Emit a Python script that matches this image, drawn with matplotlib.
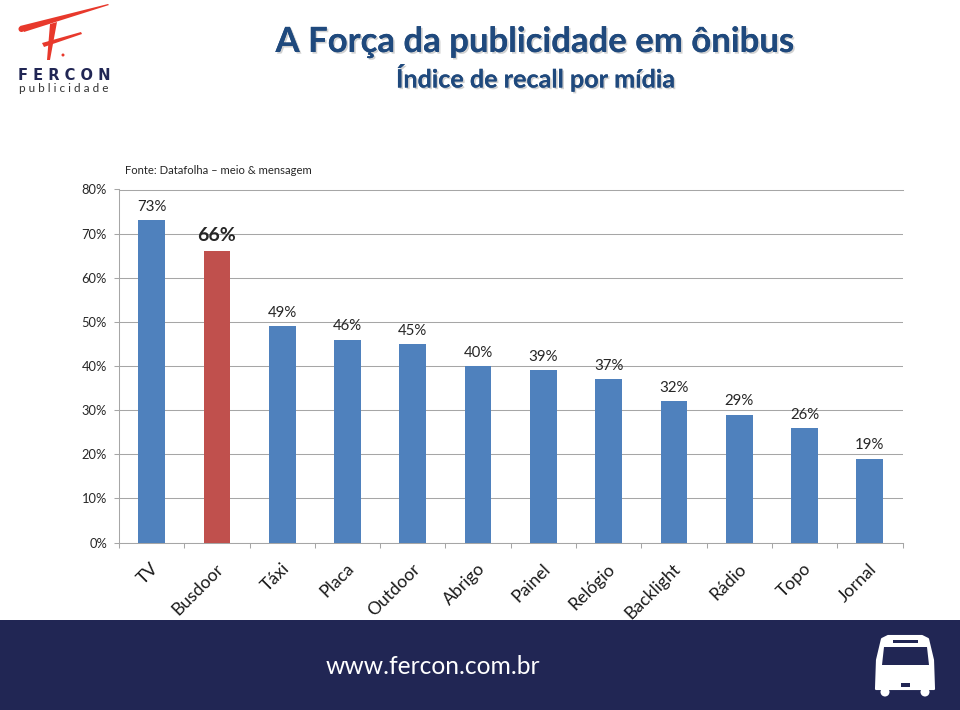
import matplotlib
matplotlib.use("Agg")
import matplotlib.pyplot as plt
import matplotlib.patheffects as pe
from matplotlib.patches import Polygon, Rectangle, Circle

plt.rcParams['font.family'] = ['Lato', 'DejaVu Sans']

categories = ['TV', 'Busdoor', 'Táxi', 'Placa', 'Outdoor', 'Abrigo', 'Painel',
              'Relógio', 'Backlight', 'Rádio', 'Topo', 'Jornal']
values = [73, 66, 49, 46, 45, 40, 39, 37, 32, 29, 26, 19]
highlight = 'Busdoor'
y_ticks = [0, 10, 20, 30, 40, 50, 60, 70, 80]

BLUE = '#4f81bd'
RED = '#c0504d'
GRID = '#a6a6a6'
NAVY = '#212654'
LOGO_RED = '#e8392c'
W, H = 960, 710

fig = plt.figure(figsize=(W / 100, H / 100), dpi=100, facecolor='white')

# background layer in pixel coordinates (footer, logo, titles)
bg = fig.add_axes([0, 0, 1, 1])
bg.set_xlim(0, W)
bg.set_ylim(H, 0)
bg.axis('off')

bg.add_patch(Rectangle((0, 620), 960, 90, fc=NAVY, ec='none'))
bg.text(433, 667, 'www.fercon.com.br', color='white', fontsize=17.7,
        ha='center', va='center')

# bus icon
bg.add_patch(Polygon([(882, 639), (888, 636), (922, 636), (928, 639), (933, 660),
                      (934, 689), (876, 689), (877, 660)],
                     fc='white', ec='white', lw=1.5, joinstyle='round'))
bg.add_patch(Circle((885, 692), 4.5, fc='white', ec='none'))
bg.add_patch(Circle((925, 692), 4.5, fc='white', ec='none'))
bg.add_patch(Polygon([(884, 647), (927, 647), (929, 665), (882, 665)], fc=NAVY, ec='none'))
bg.add_patch(Rectangle((893, 640), 25, 3, fc=NAVY, ec='none'))
bg.add_patch(Rectangle((901, 683), 9, 4, fc=NAVY, ec='none'))

# logo
bg.add_patch(Circle((21.5, 29), 3, fc=LOGO_RED, ec='none'))
bg.add_patch(Polygon([(20, 26), (108, 4), (109, 5), (24, 32)], fc=LOGO_RED, ec='none'))
bg.add_patch(Polygon([(50, 24), (57, 22), (50, 60), (47, 60)], fc=LOGO_RED, ec='none'))
bg.add_patch(Polygon([(42, 43), (81, 32), (82, 34), (44, 47)], fc=LOGO_RED, ec='none'))
bg.add_patch(Circle((63, 55), 1.5, fc=LOGO_RED, ec='none'))
bg.text(64, 75.5, 'F E R C O N', color=NAVY, fontsize=10.5, fontweight='bold',
        ha='center', va='center', family=['DejaVu Sans'])
bg.text(64, 88.5, 'p u b l i c i d a d e', color='#333333', fontsize=8.5,
        ha='center', va='center')

# titles with soft shadow
shadow = [pe.withSimplePatchShadow(offset=(1.2, -1.2), shadow_rgbFace='#9a9a9a', alpha=0.45),
          pe.Normal()]
bg.text(535, 42, 'A Força da publicidade em ônibus', color='#1f497d', fontsize=25,
        fontweight='bold', ha='center', va='center', path_effects=shadow)
bg.text(535.5, 78, 'Índice de recall por mídia', color='#1f497d', fontsize=18.1,
        fontweight='bold', ha='center', va='center', path_effects=shadow)
bg.text(125, 170, 'Fonte: Datafolha – meio & mensagem', color='#262626', fontsize=8.1,
        ha='left', va='center')

# chart
ax = fig.add_axes([119 / W, 1 - 542.5 / H, (902.5 - 119) / W, (542.5 - 189.5) / H])
ax.patch.set_alpha(0)
x = list(range(len(categories)))
colors = [RED if c == highlight else BLUE for c in categories]
ax.bar(x, values, width=0.41, color=colors, zorder=3)

ax.set_xlim(-0.5, len(categories) - 0.5)
ax.set_ylim(0, 80)
ax.set_yticks(y_ticks)
ax.set_yticklabels([f'{v}%' for v in y_ticks], fontsize=9.3, color='#262626')
ax.yaxis.grid(True, color=GRID, lw=0.75, zorder=0)
ax.set_axisbelow(True)
ax.spines['right'].set_visible(False)
for side in ['top', 'left', 'bottom']:
    ax.spines[side].set_color(GRID)
    ax.spines[side].set_linewidth(0.75)
ax.tick_params(axis='y', length=3.6, width=0.75, color=GRID, pad=5)

# x ticks sit between the bars
ax.set_xticks([i - 0.5 for i in range(len(categories) + 1)], minor=False)
ax.set_xticklabels([])
ax.tick_params(axis='x', length=3.6, width=0.75, color=GRID)
for i, c in enumerate(categories):
    ax.annotate(c, (i, 0), xycoords=('data', 'axes fraction'), xytext=(-1, -13),
                textcoords='offset points', rotation=45, ha='right', va='top',
                rotation_mode='anchor', fontsize=12.6, color='#1a1a1a')

for i, v in enumerate(values):
    big = categories[i] == highlight
    ax.annotate(f'{v}%', (i, v), xytext=(0, 5 if big else 4.5), textcoords='offset points',
                ha='center', va='bottom', fontsize=14 if big else 10.8,
                fontweight='bold' if big else 'normal', color='#262626')

fig.savefig('out.png', dpi=100)
